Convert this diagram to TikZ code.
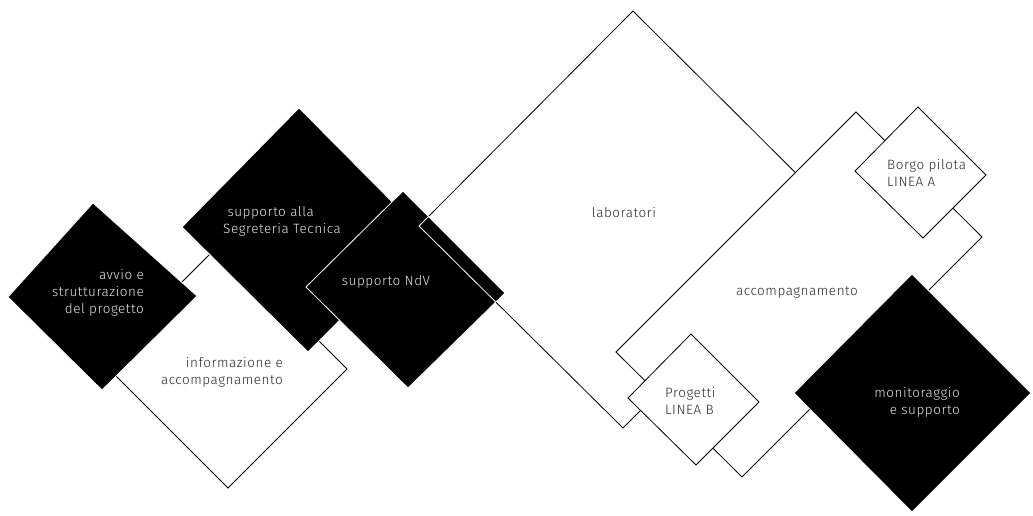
\documentclass[tikz,border=0pt]{standalone}
\usepackage{fontspec}
\setmainfont{Fira Sans Light}[LetterSpace=4]
\definecolor{txtdark}{HTML}{2A2A2A}
\definecolor{txtlight}{HTML}{E6E6E6}
\begin{document}
\begin{tikzpicture}[x=1pt,y=-1pt,
  wbox/.style={fill=white,draw=black,line width=0.8pt},
  bbox/.style={fill=black,draw=white,line width=0.8pt},
  lbl/.style={inner sep=0pt,font=\fontsize{13.5}{17}\selectfont},
  wtxt/.style={lbl,text=txtdark},
  btxt/.style={lbl,text=txtlight}]
\useasboundingbox (0,0) rectangle (1033,515);
\fill[white] (0,0) rectangle (1033,515);
% shape outlines
\def\informazione{(221,243) -- (347,369) -- (228,488) -- (102,362) -- cycle}
\def\avvio{(93,203) -- (197,296) -- (102,390) -- (8,297) -- cycle}
\def\segreteria{(299,108) -- (425,235) -- (308,352) -- (182,227) -- cycle}
\def\ndv{(403,191) -- (505,293) -- (408,388) -- (306,287) -- cycle}
\def\laboratori{(633,11) -- (837,214) -- (623,428) -- (419,226) -- cycle}
\def\accomp{(856,112) -- (982,237) -- (742,477) -- (616,352) -- cycle}
\def\borgo{(918,107) -- (986,175) -- (923,238) -- (855,171) -- cycle}
\def\progetti{(691,334) -- (759,402) -- (696,465) -- (628,398) -- cycle}
\def\monitor{(912,274) -- (1031,393) -- (912,512) -- (794,393) -- cycle}
% drawing order
\path[wbox] \informazione;
\path[bbox] \avvio;
\path[bbox] \segreteria;
\path[wbox] \laboratori;
\path[bbox] \ndv;
\begin{scope}
  \clip \ndv;
  \draw[white,line width=0.8pt] \laboratori;
\end{scope}
\path[wbox] \accomp;
\path[wbox] \borgo;
\path[wbox] \progetti;
\path[bbox] \monitor;
% labels (base anchor = baseline of the last line)
\node[btxt,align=right,anchor=base east] (tavvio) at (144,313) {avvio e\\strutturazione\\del progetto};
\node[wtxt,align=right,anchor=base east] (tinfo) at (283,384) {informazione e\\accompagnamento};
\node[btxt,align=left,anchor=base west] (tsegr) at (223,233) {\ supporto alla\\Segreteria Tecnica};
\node[btxt,anchor=base] (tndv) at (386,285) {supporto NdV};
\node[wtxt,anchor=base] (tlab) at (624,217) {laboratori};
\node[wtxt,anchor=base] (tacc) at (797,295) {accompagnamento};
\node[wtxt,align=left,anchor=base west] (tborgo) at (887,186) {Borgo pilota\\LINEA A};
\node[wtxt,align=left,anchor=base west] (tprog) at (665,414) {Progetti\\LINEA B};
\node[btxt,align=right,anchor=base east] (tmon) at (960,414) {monitoraggio\\e supporto};
\end{tikzpicture}
\end{document}
